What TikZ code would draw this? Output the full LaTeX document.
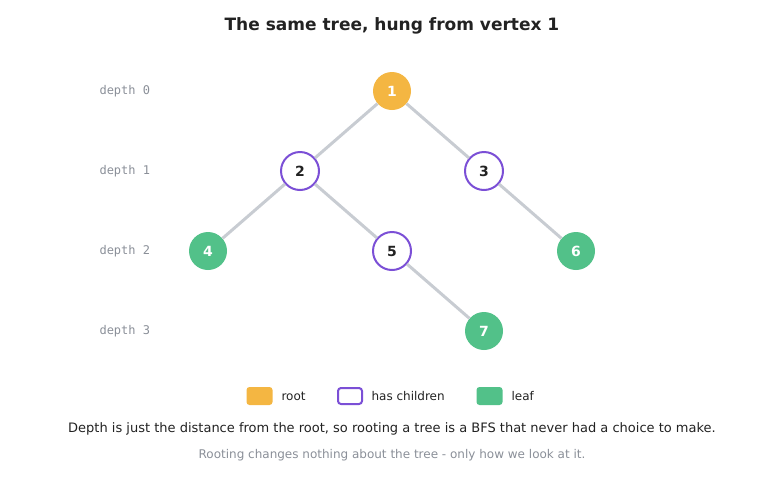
\documentclass[tikz,border=0pt]{standalone}
\usepackage{fontspec}
\setmainfont{DejaVu Sans}
\setmonofont{DejaVu Sans Mono}
\definecolor{rootc}{HTML}{F4B642}
\definecolor{innerc}{HTML}{7B4FD6}
\definecolor{leafc}{HTML}{52C189}
\definecolor{edgec}{HTML}{C8CCD2}
\definecolor{inkc}{HTML}{222222}
\definecolor{mutec}{HTML}{8A8F98}
\begin{document}
\begin{tikzpicture}[x=1pt,y=-1pt,
  vtx/.style={circle, minimum size=38pt, inner sep=0pt, font=\fontsize{14}{14}\selectfont\bfseries},
  root/.style={vtx, fill=rootc, text=white},
  inner/.style={vtx, draw=innerc, line width=2pt, fill=white, text=inkc},
  leaf/.style={vtx, fill=leafc, text=white},
  edge/.style={edgec, line width=3pt},
  depth/.style={anchor=west, text=mutec, font=\ttfamily\fontsize{12}{12}\selectfont},
  key/.style={rounded corners=3pt, minimum width=26pt, minimum height=18pt, inner sep=0pt},
  keytext/.style={anchor=west, text=inkc, font=\fontsize{12}{12}\selectfont}]
\useasboundingbox (0,0) rectangle (784,480);

\node[text=inkc, font=\fontsize{17}{17}\selectfont\bfseries] (title) at (392,26) {The same tree, hung from vertex 1};

% depth labels
\foreach \d in {0,...,3}
  \node[depth] (d\d) at (96,91+80*\d) {depth \d};

% vertices
\node[root]  (v1) at (392,91)  {1};
\node[inner] (v2) at (300,171) {2};
\node[inner] (v3) at (484,171) {3};
\node[leaf]  (v4) at (208,251) {4};
\node[inner] (v5) at (392,251) {5};
\node[leaf]  (v6) at (576,251) {6};
\node[leaf]  (v7) at (484,331) {7};

\begin{scope}[on background layer/.try]
\end{scope}
\draw[edge] (v1) -- (v2);
\draw[edge] (v1) -- (v3);
\draw[edge] (v2) -- (v4);
\draw[edge] (v2) -- (v5);
\draw[edge] (v3) -- (v6);
\draw[edge] (v5) -- (v7);

% legend
\node[key, fill=rootc] (kroot) at (259.5,396) {};
\node[keytext] (troot) at (278,396) {root};
\node[key, draw=innerc, line width=2pt, fill=white, minimum width=24pt, minimum height=16pt] (kinner) at (350,396) {};
\node[keytext] (tinner) at (368,396) {has children};
\node[key, fill=leafc] (kleaf) at (489.5,396) {};
\node[keytext] (tleaf) at (508,396) {leaf};

\node[text=inkc, font=\fontsize{13}{13}\selectfont] (cap1) at (392,429) {Depth is just the distance from the root, so rooting a tree is a BFS that never had a choice to make.};
\node[text=mutec, font=\fontsize{12}{12}\selectfont] (cap2) at (392,455) {Rooting changes nothing about the tree - only how we look at it.};
\end{tikzpicture}
\end{document}
